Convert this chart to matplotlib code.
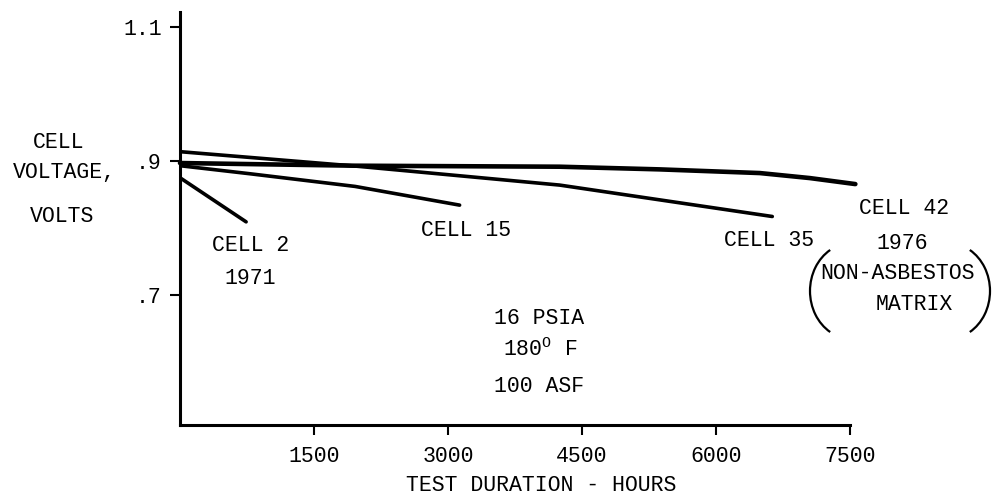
import matplotlib
matplotlib.use("Agg")
import matplotlib.pyplot as plt
from matplotlib.patches import Arc
from matplotlib.transforms import IdentityTransform

# cell voltage vs test duration
cell2_hours = [0, 740]
cell2_volts = [0.875, 0.809]

cell15_hours = [0, 780, 1960, 3130]
cell15_volts = [0.893, 0.881, 0.862, 0.834]

cell35_hours = [0, 2000, 4250, 6630]
cell35_volts = [0.914, 0.892, 0.864, 0.817]

cell42_hours = [0, 1960, 4250, 5370, 6490, 7050, 7560]
cell42_volts = [0.897, 0.893, 0.8915, 0.8875, 0.882, 0.8745, 0.8655]

x_ticks = [1500, 3000, 4500, 6000, 7500]
y_ticks = [1.1, 0.9, 0.7]
y_tick_labels = ["1.1", ".9", ".7"]

plt.rcParams['font.family'] = ['Liberation Mono', 'DejaVu Sans']
plt.rcParams['mathtext.fontset'] = 'custom'
plt.rcParams['mathtext.rm'] = 'Liberation Mono'

W, H = 1008, 498
fig = plt.figure(figsize=(W / 100, H / 100), dpi=100)
ax = fig.add_axes([180 / W, 1 - 425 / H, 670 / W, 413 / H])

lw = 2.6
ax.plot(cell2_hours, cell2_volts, color='black', lw=lw, solid_capstyle='round')
ax.plot(cell15_hours, cell15_volts, color='black', lw=lw, solid_capstyle='round')
ax.plot(cell35_hours, cell35_volts, color='black', lw=lw, solid_capstyle='round')
ax.plot(cell42_hours, cell42_volts, color='black', lw=3.3, solid_capstyle='round',
        clip_on=False)

ax.set_xlim(0, 7500)
ax.set_ylim(0.505, 1.123)
ax.spines['top'].set_visible(False)
ax.spines['right'].set_visible(False)
ax.spines['left'].set_linewidth(2.2)
ax.spines['bottom'].set_linewidth(2.2)

ax.set_xticks(x_ticks)
ax.set_xticklabels([str(t) for t in x_ticks])
ax.set_yticks(y_ticks)
ax.set_yticklabels(y_tick_labels)
ax.tick_params(axis='x', direction='out', length=7, width=1.5, pad=8, labelsize=15.5)
ax.tick_params(axis='y', direction='out', length=7, width=1.5, pad=6, labelsize=15.5)


def label(px, py, s, size=15.5):
    fig.text(px / W, 1 - py / H, s, ha='center', va='center', fontsize=size)


label(541, 485, "TEST DURATION - HOURS")
label(59, 143, "CELL")
label(64, 173, "VOLTAGE,")
label(62, 217, "VOLTS")

label(251, 245, "CELL 2")
label(250, 278, "1971")
label(466, 230, "CELL 15")
label(769, 240, "CELL 35")
label(904, 208, "CELL 42")
label(902, 243, "1976")
label(898, 273, "NON-ASBESTOS")
label(914, 305, "MATRIX")

label(539, 319, "16 PSIA")
label(540, 350, r"180$^{\rm O}$ F")
label(539, 386, "100 ASF")

# brackets round the non-asbestos note
for cx, t1, t2 in [(852, 118, 242), (948, -62, 62)]:
    fig.patches.append(Arc((cx, H - 291), 84, 96, theta1=t1, theta2=t2,
                           transform=IdentityTransform(), color='black', lw=1.6))

fig.savefig("out.png", dpi=100)
